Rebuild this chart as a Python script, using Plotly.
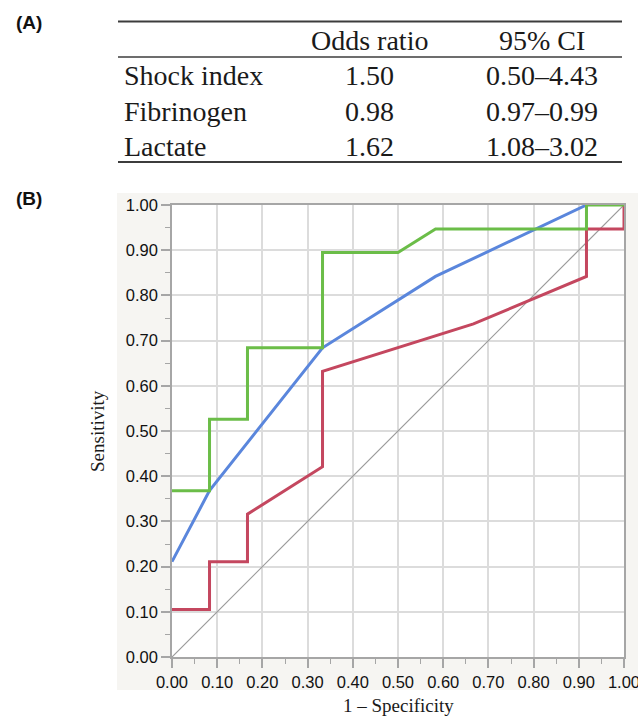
import plotly.graph_objects as go

# ---------------- data ----------------
table_rows = ["Shock index", "Fibrinogen", "Lactate"]
odds_ratio = ["1.50", "0.98", "1.62"]
ci_95 = ["0.50–4.43", "0.97–0.99", "1.08–3.02"]
table_header = ["Odds ratio", "95% CI"]

green_fpr = [0.0, 0.083, 0.083, 0.167, 0.167, 0.333, 0.333, 0.5, 0.583, 0.917, 0.917, 1.0]
green_sens = [0.368, 0.368, 0.526, 0.526, 0.684, 0.684, 0.895, 0.895, 0.947, 0.947, 1.0, 1.0]

red_fpr = [0.0, 0.083, 0.083, 0.167, 0.167, 0.333, 0.333, 0.667, 0.917, 0.917, 1.0, 1.0]
red_sens = [0.105, 0.105, 0.211, 0.211, 0.316, 0.421, 0.632, 0.737, 0.842, 0.947, 0.947, 1.0]

blue_fpr = [0.0, 0.083, 0.333, 0.583, 0.917]
blue_sens = [0.211, 0.368, 0.684, 0.842, 1.0]

ref_fpr = [0.0, 1.0]
ref_sens = [0.0, 1.0]

tick_vals = [0.0, 0.1, 0.2, 0.3, 0.4, 0.5, 0.6, 0.7, 0.8, 0.9, 1.0]
tick_text = ["0.00", "0.10", "0.20", "0.30", "0.40", "0.50", "0.60", "0.70", "0.80", "0.90", "1.00"]

# ---------------- layout helpers ----------------
W, H = 638, 717
PL, PR, PT, PB = 172, 624, 205, 657  # plot area in pixels


def px(x):
    return (x - PL) / (PR - PL)


def py(y):
    return (PB - y) / (PB - PT)


SERIF = "Liberation Serif, Times New Roman, serif"
SANS = "Liberation Sans, Arial, sans-serif"

fig = go.Figure()

fig.add_trace(go.Scatter(x=ref_fpr, y=ref_sens, mode="lines",
                         line=dict(color="#9a9a9a", width=1.2),
                         showlegend=False, hoverinfo="skip", cliponaxis=False))
fig.add_trace(go.Scatter(x=red_fpr, y=red_sens, mode="lines", name="red",
                         line=dict(color="#c4475f", width=3),
                         showlegend=False, cliponaxis=False))
fig.add_trace(go.Scatter(x=blue_fpr, y=blue_sens, mode="lines", name="blue",
                         line=dict(color="#5a86dc", width=3),
                         showlegend=False, cliponaxis=False))
fig.add_trace(go.Scatter(x=green_fpr, y=green_sens, mode="lines", name="green",
                         line=dict(color="#6bbd48", width=3),
                         showlegend=False, cliponaxis=False))

shapes = []
# background panel for (B)
shapes.append(dict(type="rect", xref="paper", yref="paper",
                   x0=px(117), x1=px(640), y0=py(690), y1=py(193),
                   fillcolor="#f6f5f2", line=dict(width=0), layer="below"))
shapes.append(dict(type="rect", xref="paper", yref="paper",
                   x0=0, x1=1, y0=0, y1=1,
                   fillcolor="white", line=dict(width=0), layer="below"))
# table rules
for yy, lw in [(21.5, 2), (57, 1.6), (162, 2)]:
    shapes.append(dict(type="line", xref="paper", yref="paper",
                       x0=px(118), x1=px(622), y0=py(yy), y1=py(yy),
                       line=dict(color="#3c3c3c", width=lw)))

annotations = []
TFS = 28
annotations.append(dict(text="<b>(A)</b>", x=px(29), y=py(22), xref="paper", yref="paper",
                        showarrow=False, xanchor="center", yanchor="middle",
                        font=dict(family=SANS, size=19, color="#111")))
annotations.append(dict(text="<b>(B)</b>", x=px(29), y=py(198), xref="paper", yref="paper",
                        showarrow=False, xanchor="center", yanchor="middle",
                        font=dict(family=SANS, size=19, color="#111")))
col_x = [369, 542]
for cx, h in zip(col_x, table_header):
    annotations.append(dict(text=h, x=px(cx), y=py(40), xref="paper", yref="paper",
                            showarrow=False, xanchor="center", yanchor="middle",
                            font=dict(family=SERIF, size=TFS, color="#1a1a1a")))
row_y = [76, 111, 146]
for ry, lab, orv, ci in zip(row_y, table_rows, odds_ratio, ci_95):
    annotations.append(dict(text=lab, x=px(122), y=py(ry), xref="paper", yref="paper",
                            showarrow=False, xanchor="left", yanchor="middle",
                            font=dict(family=SERIF, size=TFS, color="#1a1a1a")))
    annotations.append(dict(text=orv, x=px(col_x[0]), y=py(ry), xref="paper", yref="paper",
                            showarrow=False, xanchor="center", yanchor="middle",
                            font=dict(family=SERIF, size=TFS, color="#1a1a1a")))
    annotations.append(dict(text=ci, x=px(col_x[1]), y=py(ry), xref="paper", yref="paper",
                            showarrow=False, xanchor="center", yanchor="middle",
                            font=dict(family=SERIF, size=TFS, color="#1a1a1a")))
# axis titles
annotations.append(dict(text="Sensitivity", x=px(97), y=py(431), xref="paper", yref="paper",
                        showarrow=False, xanchor="center", yanchor="middle", textangle=-90,
                        font=dict(family=SERIF, size=19, color="#1a1a1a")))
annotations.append(dict(text="1 – Specificity", x=px(398), y=py(705), xref="paper", yref="paper",
                        showarrow=False, xanchor="center", yanchor="middle",
                        font=dict(family=SERIF, size=19, color="#1a1a1a")))

axis_common = dict(
    range=[0, 1], tickvals=tick_vals, ticktext=tick_text,
    showgrid=True, gridcolor="#dcdcdc", gridwidth=1.5,
    zeroline=False, showline=True, linecolor="#a6a6a6", linewidth=1.5, mirror=True,
    ticks="outside", ticklen=9, tickcolor="#a6a6a6", tickwidth=1.5,
    minor=dict(dtick=0.05, tick0=0, ticks="outside", ticklen=5, tickcolor="#a6a6a6",
               tickwidth=1.2, showgrid=False),
    tickfont=dict(family=SANS, size=16.5, color="#111111"),
    ticklabeloverflow="allow", automargin=False,
    layer="below traces", fixedrange=True,
)

fig.update_layout(
    width=W, height=H,
    margin=dict(l=PL, r=W - PR, t=PT, b=H - PB, pad=0, autoexpand=False),
    paper_bgcolor="white", plot_bgcolor="white",
    xaxis=axis_common, yaxis=axis_common,
    shapes=shapes, annotations=annotations,
    showlegend=False,
)

fig.write_html("out.html", config={"displayModeBar": False},
               post_script="document.body.style.margin='0';document.body.style.overflow='hidden';")
